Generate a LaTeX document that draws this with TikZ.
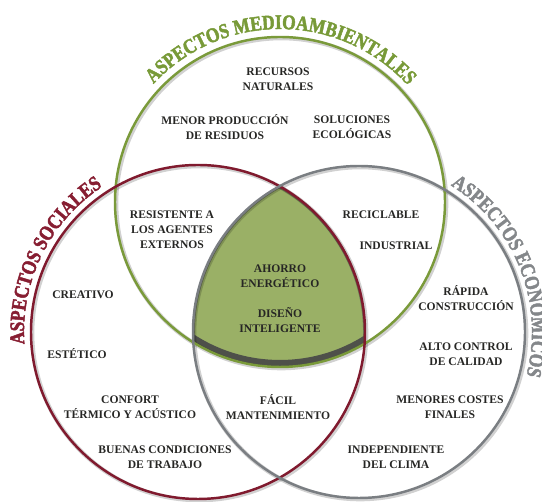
\documentclass[tikz,border=0pt]{standalone}
\usepackage{fontspec}
\setmainfont{Liberation Serif}
\newfontfamily\titlefam{Liberation Serif}[UprightFont=*/B, FakeStretch=0.84, FakeBold=2.2]
\usepackage{tikz}
\usetikzlibrary{decorations.text}

\definecolor{greenR}{RGB}{122,154,58}
\definecolor{redR}{RGB}{128,26,46}
\definecolor{grayR}{RGB}{122,126,130}
\definecolor{greenT}{RGB}{120,154,56}
\definecolor{redT}{RGB}{135,30,50}
\definecolor{grayT}{RGB}{132,135,138}
\definecolor{coreF}{RGB}{154,176,102}
\definecolor{rimC}{RGB}{78,80,74}
\definecolor{txt}{RGB}{38,38,36}

\newcommand{\titlefont}{\titlefam\fontsize{11.8}{12}\selectfont}

\begin{document}
\begin{tikzpicture}[
    x=0.2mm, y=0.2mm,
    lbl/.style={
        font=\fontsize{6.6}{8.6}\selectfont\bfseries,
        text=txt, align=center, inner sep=0pt
    },
    ring/.style={line width=1.4pt},
    ringshadow/.style={line width=2.4pt, black, opacity=0.18},
    title/.style={decorate, decoration={text along path, text align=left}}
]
\useasboundingbox (0,0) rectangle (542,502);

% circle centres
\coordinate (gC) at (280,300);
\coordinate (rC) at (198,170);
\coordinate (sC) at (359,170);

% --- shaded core: all three circles overlap
\begin{scope}
  \clip (rC) circle[radius=167];
  \clip (sC) circle[radius=166];
  \fill[coreF] (gC) circle[radius=165];
  \clip (gC) circle[radius=165];
  \draw[rimC, line width=8pt] (gC) circle[radius=165];
  \draw[rimC, line width=2.2pt, opacity=0.6] (rC) circle[radius=167];
  \draw[rimC, line width=2.2pt, opacity=0.6] (sC) circle[radius=166];
\end{scope}

% --- the three rings
\draw[ringshadow] ([shift={(1.2,-1.2)}]gC) circle[radius=165];
\draw[ringshadow] ([shift={(1.2,-1.2)}]rC) circle[radius=167];
\draw[ringshadow] ([shift={(1.2,-1.2)}]sC) circle[radius=166];
\draw[ring, greenR] (gC) circle[radius=165];
\draw[ring, redR] (rC) circle[radius=167];
\draw[ring, grayR] (sC) circle[radius=166];

% --- ring titles
\path[title, decoration={text={|\titlefont\color{greenT}|ASPECTOS MEDIOAMBIENTALES}}]
  ([shift={(137:173)}]gC) arc[start angle=137, end angle=20, radius=173];
\path[title, decoration={text={|\titlefont\color{redT}|ASPECTOS SOCIALES}}]
  ([shift={(184:174)}]rC) arc[start angle=184, end angle=90, radius=174];
\path[title, decoration={text={|\titlefont\color{grayT}|ASPECTOS ECONOMICOS}}]
  ([shift={(58:173)}]sC) arc[start angle=58, end angle=-40, radius=173];

% --- labels: name / x / y / text
\foreach \n/\x/\y/\lab in {%
    rec/278/423/{RECURSOS\\NATURALES},
    men/225/375/{MENOR PRODUCCIÓN\\DE RESIDUOS},
    sol/352/375/{SOLUCIONES\\ECOLÓGICAS},
    res/172/272/{RESISTENTE A\\LOS AGENTES\\EXTERNOS},
    recl/381/287/{RECICLABLE},
    ind/396/256/{INDUSTRIAL},
    cre/83/207/{CREATIVO},
    aho/280/226/{AHORRO\\ENERGÉTICO},
    dis/280/182/{DISEÑO\\INTELIGENTE},
    rap/466/204/{RÁPIDA\\CONSTRUCCIÓN},
    est/77/148/{ESTÉTICO},
    alt/466/148/{ALTO CONTROL\\DE CALIDAD},
    con/130/95/{CONFORT\\TÉRMICO Y ACÚSTICO},
    fac/278/95/{FÁCIL\\MANTENIMIENTO},
    cos/450/95/{MENORES COSTES\\FINALES},
    bue/165/45/{BUENAS CONDICIONES\\DE TRABAJO},
    indp/396/45/{INDEPENDIENTE\\DEL CLIMA}}
  \node[lbl] (\n) at (\x,\y) {\lab};
\end{tikzpicture}
\end{document}
